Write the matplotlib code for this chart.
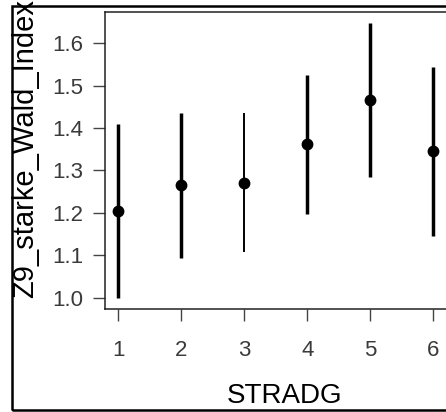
import matplotlib
matplotlib.use("Agg")
import matplotlib.pyplot as plt
from matplotlib.patches import Rectangle

plt.rcParams['font.family'] = ['Liberation Sans', 'DejaVu Sans']

# group, mean and interval bounds
stradg = [1, 2, 3, 4, 5, 6]
means = [1.205, 1.265, 1.27, 1.362, 1.467, 1.347]
lower = [1.0, 1.095, 1.108, 1.198, 1.285, 1.146]
upper = [1.41, 1.435, 1.435, 1.525, 1.647, 1.544]
widths = [2.5, 2.5, 1.4, 2.5, 2.5, 2.5]
yticks = [1.0, 1.1, 1.2, 1.3, 1.4, 1.5, 1.6]

W, H = 446, 412
fig = plt.figure(figsize=(W / 100, H / 100), dpi=100)

# outer frame (cropped on the right)
fig.patches.append(Rectangle((12 / W, 2 / H), 1.0, 404 / H, transform=fig.transFigure,
                             fill=False, edgecolor='black', linewidth=1.8))

ax = fig.add_axes([105 / W, 103 / H, 360 / W, 297 / H])
for x, m, lo, hi, lw in zip(stradg, means, lower, upper, widths):
    ax.plot([x, x], [lo, hi], color='black', linewidth=lw, solid_capstyle='butt')
    ax.plot(x, m, 'o', color='black', markersize=7.5)

ax.set_xlim(0.79, 6.5)
ax.set_ylim(0.974, 1.673)
ax.set_xticks(stradg)
ax.set_yticks(yticks)
ax.set_yticklabels(['%.1f' % v for v in yticks])
ax.tick_params(axis='both', direction='out', length=8.5, width=1, colors='#444444',
               labelsize=16, labelcolor='#3a3a3a')
ax.tick_params(axis='y', pad=7)
ax.tick_params(axis='x', pad=14)
ax.spines['right'].set_visible(False)
for s in ['left', 'bottom', 'top']:
    ax.spines[s].set_linewidth(1.1)
    ax.spines[s].set_color('#222222')

ax.set_xlabel('STRADG', fontsize=20, labelpad=15.5)
fig.text(25 / W, (H - 298) / H, 'Z9_starke_Wald_Index', rotation=90, fontsize=21,
         ha='center', va='bottom')

fig.savefig('out.png', dpi=100)
